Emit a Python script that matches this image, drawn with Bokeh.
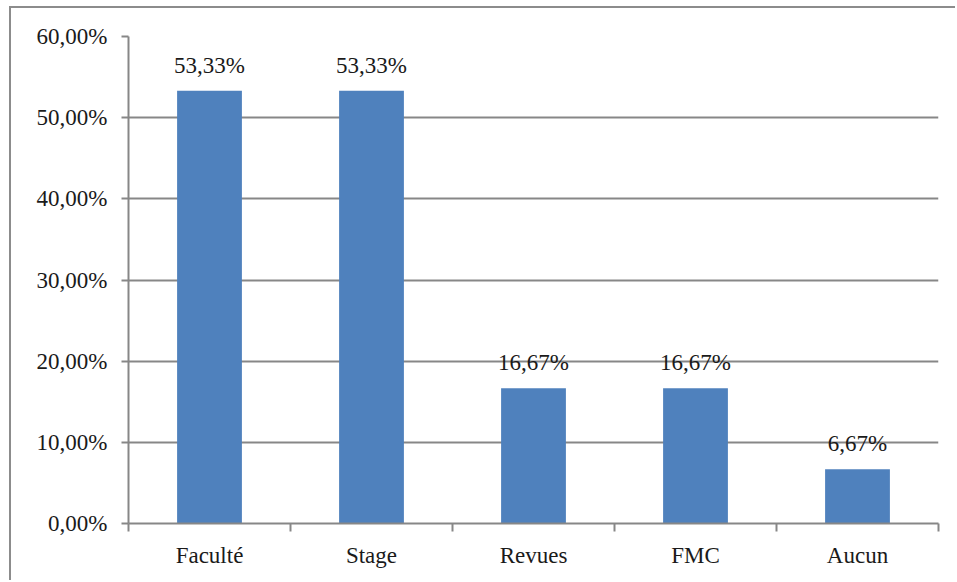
from bokeh.plotting import figure
from bokeh.models import ColumnDataSource, FixedTicker, Range1d, LabelSet
from bokeh.embed import file_html
from bokeh.resources import INLINE

categories = ["Faculté", "Stage", "Revues", "FMC", "Aucun"]
values = [53.33, 53.33, 16.67, 16.67, 6.67]
value_labels = ["53,33%", "53,33%", "16,67%", "16,67%", "6,67%"]
y_ticks = [0, 10, 20, 30, 40, 50, 60]
y_tick_labels = ["0,00%", "10,00%", "20,00%", "30,00%", "40,00%", "50,00%", "60,00%"]

FONT = "Liberation Serif"
GRAY = "#878787"
TXT = "#1a1a1a"

xs = [i + 0.5 for i in range(len(categories))]
src = ColumnDataSource(dict(x=xs, top=values, lab=value_labels))

p = figure(width=946, height=574, output_backend="svg", toolbar_location=None,
           x_range=Range1d(0, len(categories)), y_range=Range1d(0, 60),
           min_border_left=117, min_border_right=19, min_border_top=28, min_border_bottom=59,
           styles={"border-left": "2px solid #8c8c8c", "border-top": "2px solid #8c8c8c",
                   "margin-left": "9px", "margin-top": "6px"})
p.outline_line_color = None
p.background_fill_color = "white"
p.border_fill_color = "white"

p.vbar(x="x", top="top", width=0.4, source=src, fill_color="#4F81BD", line_color=None)

labels = LabelSet(x="x", y="top", text="lab", source=src, text_align="center",
                  text_baseline="bottom", y_offset=13, text_font=FONT,
                  text_font_size="23px", text_color=TXT)
p.add_layout(labels)

# y axis
p.yaxis.ticker = FixedTicker(ticks=y_ticks, minor_ticks=[])
p.yaxis.major_label_overrides = {t: l for t, l in zip(y_ticks, y_tick_labels)}
p.yaxis.major_label_text_font = FONT
p.yaxis.major_label_text_font_size = "23px"
p.yaxis.major_label_text_color = TXT
p.yaxis.axis_line_color = GRAY
p.yaxis.axis_line_width = 2
p.yaxis.major_tick_line_color = GRAY
p.yaxis.major_tick_line_width = 2
p.yaxis.major_tick_out = 7
p.yaxis.major_tick_in = 0
p.yaxis.minor_tick_line_color = None
p.yaxis.major_label_standoff = 14

# x axis
p.xaxis.ticker = FixedTicker(ticks=xs, minor_ticks=list(range(len(categories) + 1)))
p.xaxis.major_label_overrides = {x: c for x, c in zip(xs, categories)}
p.xaxis.major_label_text_font = FONT
p.xaxis.major_label_text_font_size = "23px"
p.xaxis.major_label_text_color = TXT
p.xaxis.axis_line_color = GRAY
p.xaxis.axis_line_width = 2
p.xaxis.major_tick_line_color = None
p.xaxis.major_tick_out = 0
p.xaxis.major_tick_in = 0
p.xaxis.minor_tick_line_color = GRAY
p.xaxis.minor_tick_line_width = 2
p.xaxis.minor_tick_out = 8
p.xaxis.minor_tick_in = 0
p.xaxis.major_label_standoff = 11

p.xgrid.grid_line_color = None
p.ygrid.grid_line_color = GRAY
p.ygrid.grid_line_width = 2

open("out.html", "w").write(file_html(p, INLINE))
